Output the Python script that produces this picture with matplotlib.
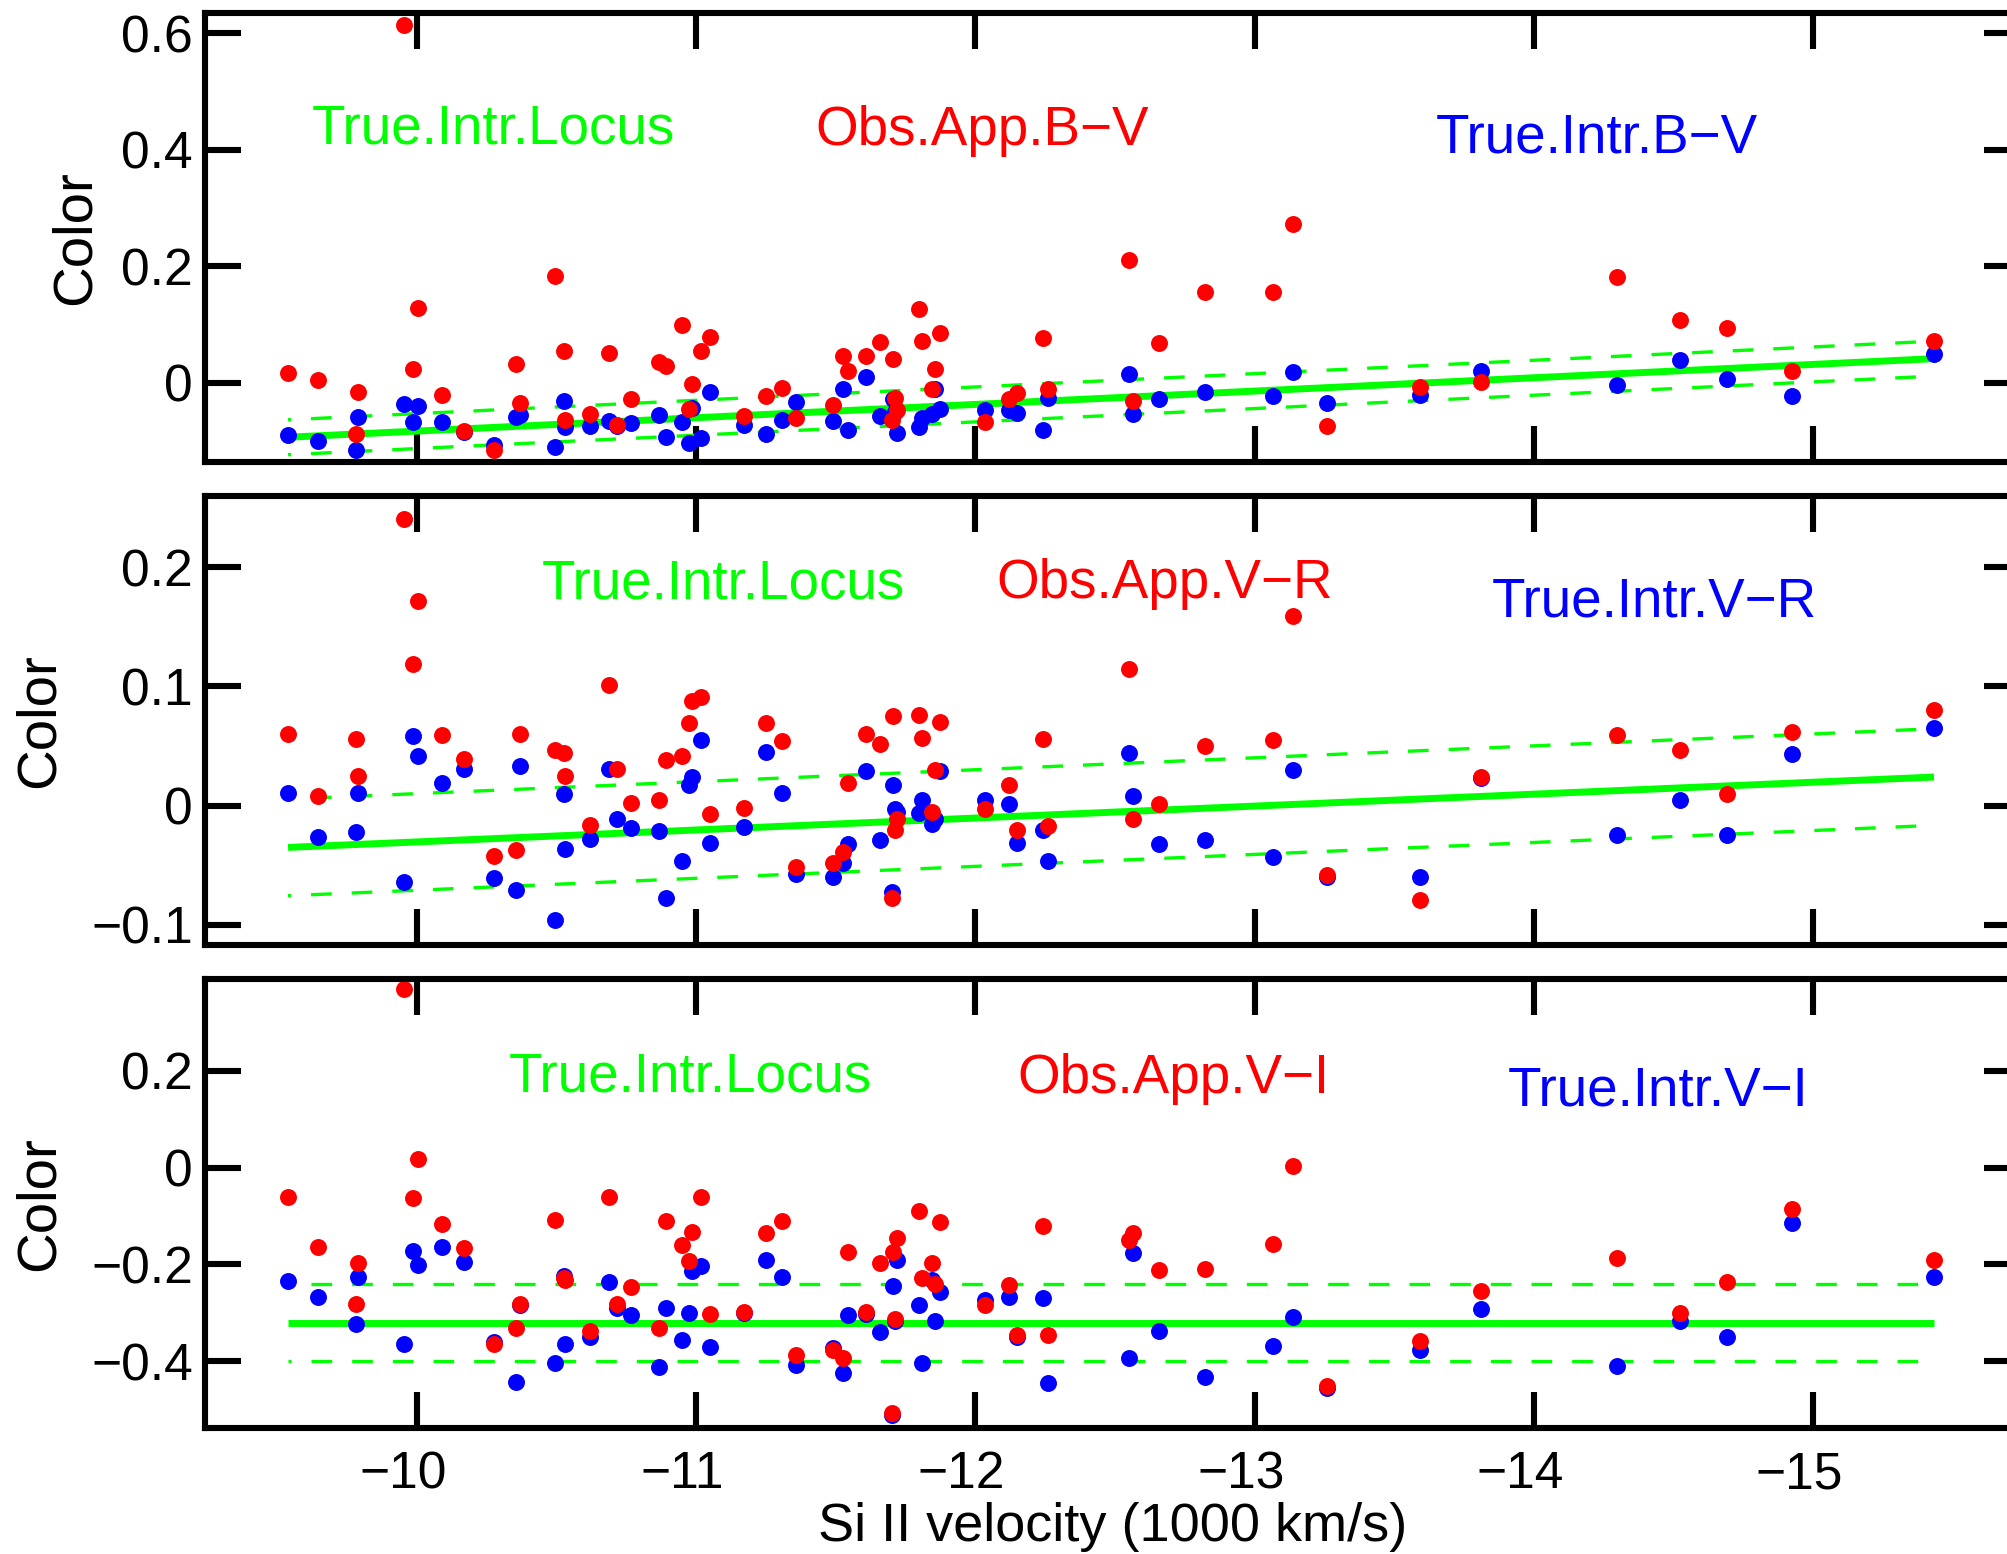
import matplotlib
matplotlib.use("Agg")
import matplotlib.pyplot as plt
import matplotlib.transforms as mtransforms
import numpy as np
from matplotlib.ticker import FixedLocator, FuncFormatter

plt.rcParams["font.family"] = ["Liberation Sans", "DejaVu Sans"]

# Si II velocity (1000 km/s), one entry per supernova
VELOCITY = -np.array([
    9.539, 9.647, 9.782, 9.789, 9.954, 9.987, 10.004, 10.091, 10.170, 10.275,
    10.354, 10.370, 10.496, 10.527, 10.532, 10.619, 10.688, 10.716, 10.767, 10.866,
    10.891, 10.948, 10.976, 10.984, 11.016, 11.050, 11.170, 11.250, 11.309, 11.357,
    11.489, 11.527, 11.545, 11.607, 11.658, 11.701, 11.706, 11.712, 11.720, 11.799,
    11.810, 11.844, 11.855, 11.872, 12.035, 12.121, 12.148, 12.243, 12.259, 12.549,
    12.565, 12.659, 12.822, 13.064, 13.138, 13.260, 13.591, 13.810, 14.298, 14.523,
    14.691, 14.924, 15.432,
])

BV_OBS = [
    0.017, 0.004, -0.089, -0.017, 0.614, 0.024, 0.128, -0.022, -0.083, -0.116,
    0.032, -0.035, 0.183, 0.054, -0.064, -0.054, 0.051, -0.073, -0.029, 0.035,
    0.029, 0.098, -0.046, -0.003, 0.054, 0.079, -0.057, -0.023, -0.010, -0.061,
    -0.038, 0.046, 0.020, 0.045, 0.069, -0.064, 0.040, -0.027, -0.047, 0.126,
    0.072, -0.011, 0.024, 0.085, -0.068, -0.029, -0.018, 0.076, -0.011, 0.211,
    -0.031, 0.068, 0.155, 0.156, 0.272, -0.074, -0.008, 0.001, 0.181, 0.108,
    0.093, 0.020, 0.072,
]
BV_INTR = [
    -0.091, -0.101, -0.116, -0.059, -0.037, -0.067, -0.040, -0.067, -0.085, -0.107,
    -0.060, -0.056, -0.111, -0.032, -0.076, -0.074, -0.066, -0.075, -0.069, -0.055,
    -0.093, -0.067, -0.104, -0.044, -0.095, -0.017, -0.073, -0.089, -0.064, -0.033,
    -0.066, -0.011, -0.081, 0.010, -0.057, -0.060, -0.028, -0.050, -0.087, -0.076,
    -0.061, -0.054, -0.011, -0.046, -0.047, -0.047, -0.053, -0.082, -0.026, 0.014,
    -0.054, -0.028, -0.016, -0.023, 0.018, -0.035, -0.022, 0.020, -0.004, 0.038,
    0.006, -0.024, 0.049,
]
VR_OBS = [
    0.060, 0.008, 0.056, 0.025, 0.240, 0.119, 0.172, 0.059, 0.039, -0.042,
    -0.037, 0.060, 0.047, 0.044, 0.025, -0.016, 0.101, 0.031, 0.002, 0.005,
    0.038, 0.042, 0.069, 0.088, 0.091, -0.007, -0.002, 0.069, 0.054, -0.051,
    -0.048, -0.039, 0.019, 0.060, 0.052, -0.077, 0.075, -0.020, -0.011, 0.076,
    0.057, -0.005, 0.030, 0.070, -0.003, 0.017, -0.020, 0.056, -0.017, 0.115,
    -0.011, 0.001, 0.050, 0.055, 0.159, -0.058, -0.079, 0.024, 0.059, 0.047,
    0.010, 0.062, 0.080,
]
VR_INTR = [
    0.011, -0.026, -0.022, 0.011, -0.064, 0.058, 0.042, 0.019, 0.031, -0.061,
    -0.071, 0.033, -0.096, 0.010, -0.036, -0.028, 0.031, -0.011, -0.019, -0.021,
    -0.077, -0.046, 0.017, 0.024, 0.055, -0.031, -0.018, 0.045, 0.011, -0.057,
    -0.060, -0.048, -0.032, 0.029, -0.029, -0.072, 0.017, -0.003, -0.005, -0.006,
    0.005, -0.015, -0.011, 0.029, 0.005, 0.001, -0.031, -0.020, -0.046, 0.044,
    0.008, -0.032, -0.029, -0.043, 0.030, -0.060, -0.060, 0.023, -0.025, 0.005,
    -0.025, 0.043, 0.065,
]
VI_OBS = [
    -0.061, -0.163, -0.281, -0.196, 0.370, -0.062, 0.019, -0.117, -0.166, -0.364,
    -0.332, -0.281, -0.108, -0.227, -0.232, -0.337, -0.061, -0.281, -0.247, -0.332,
    -0.110, -0.160, -0.192, -0.132, -0.060, -0.303, -0.298, -0.135, -0.110, -0.387,
    -0.376, -0.394, -0.175, -0.298, -0.198, -0.508, -0.175, -0.313, -0.145, -0.089,
    -0.227, -0.196, -0.241, -0.113, -0.283, -0.243, -0.345, -0.120, -0.345, -0.150,
    -0.136, -0.211, -0.209, -0.157, 0.004, -0.452, -0.359, -0.254, -0.187, -0.301,
    -0.236, -0.085, -0.190,
]
VI_INTR = [
    -0.234, -0.267, -0.323, -0.226, -0.365, -0.172, -0.201, -0.164, -0.195, -0.360,
    -0.442, -0.284, -0.404, -0.223, -0.365, -0.349, -0.236, -0.291, -0.305, -0.411,
    -0.289, -0.356, -0.301, -0.214, -0.203, -0.371, -0.300, -0.190, -0.225, -0.408,
    -0.372, -0.425, -0.305, -0.302, -0.339, -0.511, -0.244, -0.316, -0.191, -0.283,
    -0.404, -0.232, -0.317, -0.256, -0.274, -0.268, -0.350, -0.270, -0.446, -0.394,
    -0.176, -0.338, -0.432, -0.369, -0.309, -0.455, -0.377, -0.293, -0.410, -0.316,
    -0.350, -0.115, -0.225,
]

# intrinsic locus: colour at the slowest and fastest velocity, and band half-width
LOCUS_BV = [-0.094, 0.041]
LOCUS_VR = [-0.035, 0.024]
LOCUS_VI = [-0.320, -0.320]
BAND_BV = 0.030
BAND_VR = 0.0405
BAND_VI = 0.080

BV_TICKS = [0.0, 0.2, 0.4, 0.6]
VR_TICKS = [-0.1, 0.0, 0.1, 0.2]
VI_TICKS = [-0.4, -0.2, 0.0, 0.2]
X_TICKS = [-10, -11, -12, -13, -14, -15]

GREEN, RED, BLUE = "#00ff00", "#ff0000", "#0000ff"

panels = [
    dict(obs=BV_OBS, intr=BV_INTR, locus=LOCUS_BV, band=BAND_BV, ticks=BV_TICKS,
         ylim=(-0.136, 0.634), rect=[0.1020, 0.7029, 0.9040, 0.2885],
         names=("True.Intr.Locus", "Obs.App.B\u2212V", "True.Intr.B\u2212V"),
         tx=(0.0591, 0.3365, 0.6781), ty=(0.7108, 0.7063, 0.6891), ylab_x=-0.057),
    dict(obs=VR_OBS, intr=VR_INTR, locus=LOCUS_VR, band=BAND_VR, ticks=VR_TICKS,
         ylim=(-0.1168, 0.2596), rect=[0.1020, 0.3919, 0.9040, 0.2889],
         names=("True.Intr.Locus", "Obs.App.V\u2212R", "True.Intr.V\u2212R"),
         tx=(0.1855, 0.4359, 0.7089), ty=(0.7722, 0.7728, 0.7312), ylab_x=-0.0765),
    dict(obs=VI_OBS, intr=VI_INTR, locus=LOCUS_VI, band=BAND_VI, ticks=VI_TICKS,
         ylim=(-0.538, 0.390), rect=[0.1020, 0.0811, 0.9040, 0.2889],
         names=("True.Intr.Locus", "Obs.App.V\u2212I", "True.Intr.V\u2212I"),
         tx=(0.1674, 0.4474, 0.7178), ty=(0.7486, 0.7468, 0.7174), ylab_x=-0.0765),
]


def fmt(v, _):
    return f"{v:g}".replace("-", "\u2212")


fig = plt.figure(figsize=(10.04, 7.77), dpi=200)
x_ends = [VELOCITY.max(), VELOCITY.min()]
# the x labels sit a little left of their ticks in the original
shift = mtransforms.ScaledTranslation(-5 / 72, 0, fig.dpi_scale_trans)

for i, p in enumerate(panels):
    ax = fig.add_axes(p["rect"])
    locus = np.array(p["locus"])

    ax.plot(x_ends, locus, color=GREEN, lw=2.5, solid_capstyle="butt")
    for sign in (1, -1):
        ax.plot(x_ends, locus + sign * p["band"], color=GREEN, lw=1.2,
                linestyle=(5.3, (6.2, 6.0)), dash_capstyle="butt")

    ax.plot(VELOCITY, p["intr"], "o", color=BLUE, ms=6.1, mew=0)
    ax.plot(VELOCITY, p["obs"], "o", color=RED, ms=6.1, mew=0)

    for name, col, tx, ty in zip(p["names"], (GREEN, RED, BLUE), p["tx"], p["ty"]):
        ax.text(tx, ty, name, color=col, fontsize=19.7, ha="left", va="baseline",
                transform=ax.transAxes)

    ax.set_xlim(-9.241, -15.740)
    ax.set_ylim(*p["ylim"])
    ax.xaxis.set_major_locator(FixedLocator(X_TICKS))
    ax.yaxis.set_major_locator(FixedLocator(p["ticks"]))
    ax.xaxis.set_major_formatter(FuncFormatter(fmt))
    ax.yaxis.set_major_formatter(FuncFormatter(fmt))
    ax.tick_params(direction="in", length=13, width=2.2, top=True, right=True,
                   labelsize=18.6)
    ax.tick_params(axis="y", pad=4.3)
    ax.tick_params(axis="x", pad=8, labelbottom=(i == 2))
    for sp in ax.spines.values():
        sp.set_linewidth(2.2)

    ax.set_ylabel("Color", fontsize=20.3)
    ax.yaxis.set_label_coords(p["ylab_x"], 0.5)
    if i == 2:
        for tick in ax.xaxis.get_major_ticks():
            tick.label1.set_transform(tick.label1.get_transform() + shift)
        ax.set_xlabel("Si II velocity (1000 km/s)", fontsize=19.5)
        ax.xaxis.set_label_coords(0.5, -0.165)

fig.savefig("out.png", dpi=200)
